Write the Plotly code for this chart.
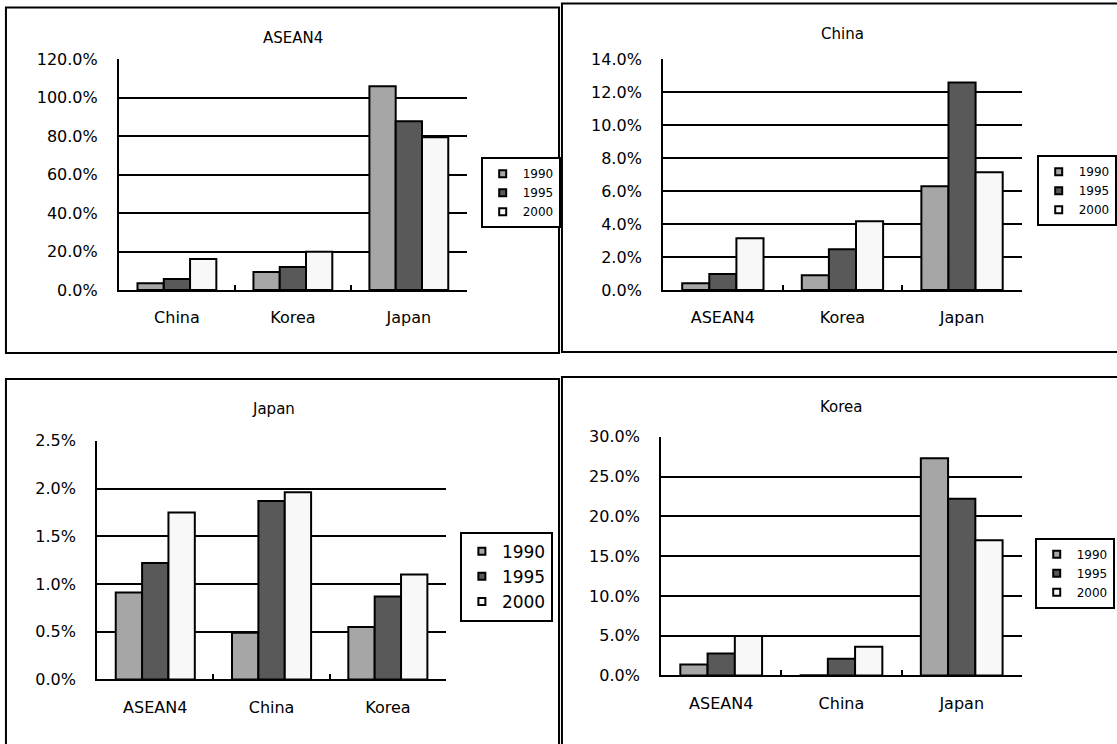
import plotly.graph_objects as go

# ---- data (shares in percent) ----
years = ["1990", "1995", "2000"]
year_colors = ["#a6a6a6", "#595959", "#f8f8f8"]

asean4_title = "ASEAN4"
asean4_partners = ["China", "Korea", "Japan"]
asean4_1990 = [3.6, 9.4, 106.0]
asean4_1995 = [5.7, 12.0, 87.8]
asean4_2000 = [16.1, 19.9, 79.5]

china_title = "China"
china_partners = ["ASEAN4", "Korea", "Japan"]
china_1990 = [0.42, 0.90, 6.30]
china_1995 = [0.97, 2.48, 12.6]
china_2000 = [3.15, 4.18, 7.15]

japan_title = "Japan"
japan_partners = ["ASEAN4", "China", "Korea"]
japan_1990 = [0.91, 0.49, 0.55]
japan_1995 = [1.22, 1.87, 0.87]
japan_2000 = [1.75, 1.96, 1.10]

korea_title = "Korea"
korea_partners = ["ASEAN4", "China", "Japan"]
korea_1990 = [1.38, 0.03, 27.3]
korea_1995 = [2.76, 2.10, 22.2]
korea_2000 = [4.95, 3.60, 17.0]

y_max = [120, 14, 2.5, 30]
y_step = [20, 2, 0.5, 5]

# ---- page geometry (pixels) ----
W, H = 1117, 744
FONT = "DejaVu Sans"
SX, SY, OY = 0.99, 0.976, 8.5


def px(x):
    return (x / SX) / W


def py(y):
    return 1 - ((y - OY) / SY) / H


panels = [
    dict(title=asean4_title, cats=asean4_partners,
         vals=[asean4_1990, asean4_1995, asean4_2000],
         plot=(120, 59, 471, 290), title_at=(296, 38),
         legend_at=(485, 157), legend_font=12,
         frame=(6, 7, 564, 353)),
    dict(title=china_title, cats=china_partners,
         vals=[china_1990, china_1995, china_2000],
         plot=(669, 59, 1031, 290), title_at=(850, 34),
         legend_at=(1046, 155), legend_font=12,
         frame=(567, 3, 1300, 352)),
    dict(title=japan_title, cats=japan_partners,
         vals=[japan_1990, japan_1995, japan_2000],
         plot=(98, 441, 450, 680), title_at=(276, 409),
         legend_at=(464, 532), legend_font=17,
         frame=(6, 379, 564, 900)),
    dict(title=korea_title, cats=korea_partners,
         vals=[korea_1990, korea_1995, korea_2000],
         plot=(667, 437, 1031, 676), title_at=(849, 407),
         legend_at=(1044, 538), legend_font=12,
         frame=(567, 377, 1300, 900)),
]

fig = go.Figure()
layout = {}
annotations = []
shapes = []

for i, p in enumerate(panels):
    n = i + 1
    xa = "x" if n == 1 else f"x{n}"
    ya = "y" if n == 1 else f"y{n}"
    lg = "legend" if n == 1 else f"legend{n}"

    # grouped bars for each year
    for yr, col, vals in zip(years, year_colors, p["vals"]):
        fig.add_trace(go.Bar(
            x=p["cats"], y=vals, name=yr, xaxis=xa, yaxis=ya,
            marker=dict(color=col, line=dict(color="black", width=2)),
            showlegend=False,
        ))
    # small square swatches for the legend box
    for yr, col in zip(years, year_colors):
        fig.add_trace(go.Scatter(
            x=[None], y=[None], mode="markers", name=yr,
            xaxis=xa, yaxis=ya, legend=lg,
            marker=dict(symbol="square", size=7, color=col,
                        line=dict(color="black", width=2)),
        ))

    x0, y0, x1, y1 = p["plot"]
    layout[f"xaxis{'' if n == 1 else n}"] = dict(
        domain=[px(x0), px(x1)], anchor=ya, type="category",
        categoryorder="array", categoryarray=p["cats"], range=[-0.5, 2.5],
        showline=True, linecolor="black", linewidth=2,
        ticks="inside", tickson="boundaries", ticklen=5, tickwidth=2,
        tickcolor="black", showgrid=False, ticklabelstandoff=12,
        tickfont=dict(family=FONT, size=16, color="black"),
        fixedrange=True,
    )
    layout[f"yaxis{'' if n == 1 else n}"] = dict(
        domain=[py(y1), py(y0)], anchor=xa,
        range=[0, y_max[i]], dtick=y_step[i], tick0=0,
        tickformat=".1f", ticksuffix="%",
        showline=True, linecolor="black", linewidth=2,
        showgrid=True, gridcolor="black", gridwidth=2,
        zeroline=False, ticks="", ticklabelstandoff=16,
        tickfont=dict(family=FONT, size=16, color="black"),
        fixedrange=True,
    )
    lx, ly = p["legend_at"]
    layout[lg] = dict(
        x=px(lx), y=py(ly), xanchor="left", yanchor="top",
        bgcolor="white", bordercolor="black", borderwidth=2,
        font=dict(family=FONT, size=p["legend_font"], color="black"),
        itemwidth=30, tracegroupgap=0,
    )

    # panel title
    tx, ty = p["title_at"]
    annotations.append(dict(
        x=px(tx), y=py(ty), xref="paper", yref="paper",
        text=p["title"], showarrow=False, xanchor="center", yanchor="middle",
        font=dict(family=FONT, size=15, color="black"),
    ))

    # panel frame
    fx0, fy0, fx1, fy1 = p["frame"]
    shapes.append(dict(
        type="rect", xref="paper", yref="paper",
        x0=px(fx0), x1=px(fx1), y0=py(fy1), y1=py(fy0),
        line=dict(color="black", width=2), fillcolor="rgba(0,0,0,0)",
        layer="above",
    ))

fig.update_layout(
    width=W, height=H, autosize=False,
    margin=dict(l=0, r=0, t=0, b=0, pad=0),
    paper_bgcolor="white", plot_bgcolor="white",
    barmode="group", bargap=0.32, bargroupgap=0,
    font=dict(family=FONT, color="black"),
    annotations=annotations, shapes=shapes,
    **layout,
)

fig.write_html(
    "out.html",
    config={"displayModeBar": False},
    default_width=f"{W}px",
    default_height=f"{H}px",
    post_script=(
        "document.documentElement.style.margin='0';"
        "document.body.style.margin='0';"
        "document.body.style.overflow='hidden';"
    ),
)
